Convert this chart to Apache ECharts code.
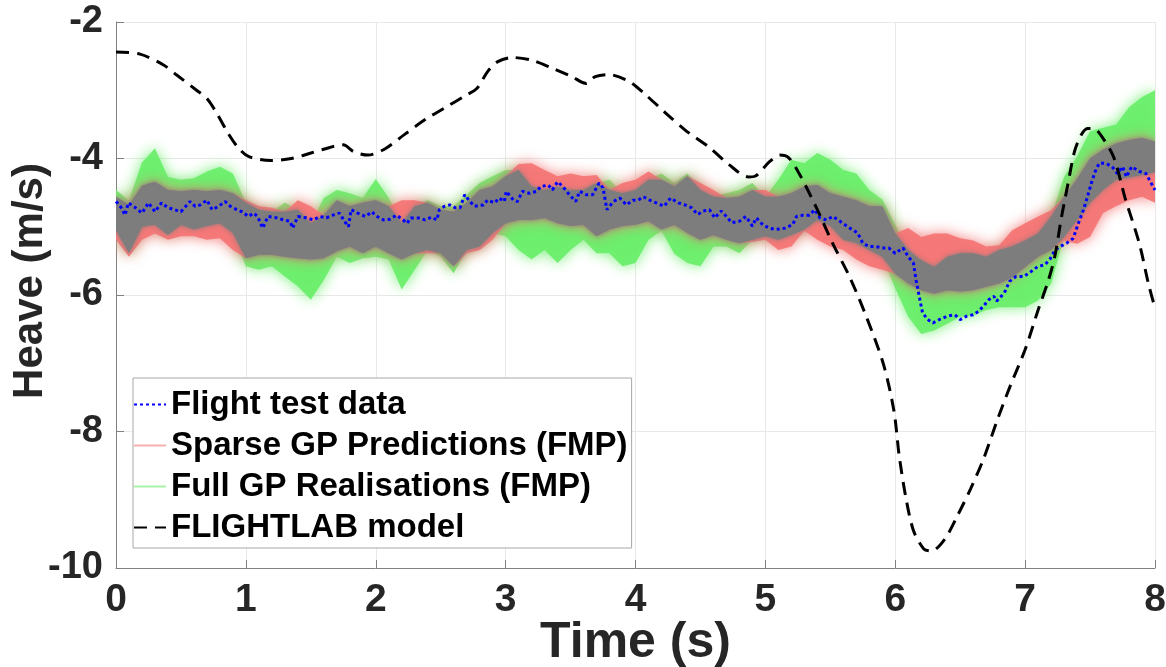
<!DOCTYPE html>
<html>
<head>
<meta charset="utf-8">
<script src="https://cdn.jsdelivr.net/npm/echarts@6/dist/echarts.min.js"></script>
<style>
html,body{margin:0;padding:0;background:#fff;}
#chart{width:1166px;height:667px;}
</style>
</head>
<body>
<div id="chart"></div>
<script>
// ---------- DATA ----------
const xTicks = [0,1,2,3,4,5,6,7,8];
const yTicks = [-10,-8,-6,-4,-2];

// Flight test data (time s, heave m/s)
const flightTime = [0.00,0.04,0.07,0.095,0.15,0.20,0.25,0.30,0.35,0.40,0.45,0.50,0.57,0.61,0.65,0.70,0.74,0.79,0.84,0.88,0.93,0.97,1.02,1.06,1.09,1.13,1.17,1.24,1.29,1.34,1.36,1.40,1.47,1.52,1.57,1.62,1.67,1.72,1.76,1.79,1.81,1.86,1.92,1.97,2.00,2.06,2.11,2.16,2.21,2.24,2.27,2.33,2.38,2.43,2.47,2.49,2.53,2.57,2.61,2.65,2.685,2.72,2.76,2.83,2.86,2.915,2.95,2.99,3.005,3.06,3.09,3.13,3.18,3.24,3.27,3.33,3.36,3.40,3.44,3.49,3.54,3.57,3.62,3.67,3.72,3.75,3.78,3.83,3.88,3.93,3.98,4.02,4.06,4.11,4.16,4.22,4.27,4.33,4.38,4.43,4.48,4.52,4.57,4.61,4.66,4.70,4.74,4.80,4.85,4.90,4.93,4.98,5.03,5.08,5.15,5.21,5.24,5.29,5.34,5.38,5.42,5.47,5.52,5.59,5.65,5.71,5.75,5.80,5.85,5.90,5.95,6.00,6.06,6.10,6.14,6.16,6.19,6.21,6.25,6.29,6.34,6.40,6.46,6.50,6.55,6.60,6.64,6.68,6.72,6.76,6.78,6.84,6.88,6.93,6.99,7.05,7.10,7.15,7.19,7.23,7.27,7.32,7.37,7.41,7.45,7.48,7.51,7.54,7.57,7.62,7.67,7.71,7.75,7.78,7.82,7.88,7.93,7.97,8.00];
const flightHeave = [-4.63,-4.72,-4.83,-4.65,-4.72,-4.80,-4.65,-4.78,-4.65,-4.72,-4.75,-4.78,-4.63,-4.70,-4.68,-4.61,-4.75,-4.70,-4.63,-4.70,-4.75,-4.78,-4.85,-4.80,-4.85,-5.02,-4.85,-4.87,-4.90,-4.92,-5.02,-4.85,-4.87,-4.90,-4.85,-4.87,-4.83,-4.80,-4.92,-5.00,-4.75,-4.80,-4.85,-4.78,-4.84,-4.90,-4.89,-4.83,-4.90,-4.95,-4.87,-4.87,-4.90,-4.86,-4.90,-4.75,-4.70,-4.68,-4.72,-4.72,-4.53,-4.62,-4.70,-4.68,-4.61,-4.65,-4.58,-4.63,-4.48,-4.61,-4.63,-4.48,-4.51,-4.48,-4.41,-4.39,-4.46,-4.34,-4.41,-4.53,-4.63,-4.48,-4.53,-4.53,-4.36,-4.43,-4.75,-4.63,-4.58,-4.68,-4.61,-4.61,-4.56,-4.61,-4.65,-4.70,-4.58,-4.65,-4.68,-4.72,-4.82,-4.77,-4.75,-4.87,-4.77,-4.85,-4.94,-4.92,-4.85,-4.99,-4.87,-4.97,-5.02,-5.04,-5.02,-4.97,-4.85,-4.83,-4.83,-4.75,-4.87,-4.90,-4.85,-4.94,-5.02,-5.09,-5.24,-5.29,-5.29,-5.31,-5.31,-5.39,-5.31,-5.44,-5.53,-5.78,-6.07,-6.26,-6.36,-6.41,-6.36,-6.31,-6.29,-6.36,-6.31,-6.29,-6.24,-6.16,-6.07,-6.02,-6.09,-5.97,-5.80,-5.73,-5.73,-5.65,-5.58,-5.56,-5.48,-5.34,-5.29,-5.24,-5.17,-4.95,-4.75,-4.56,-4.36,-4.19,-4.07,-4.07,-4.12,-4.22,-4.12,-4.27,-4.12,-4.19,-4.22,-4.36,-4.46];

// FLIGHTLAB model
const modelTime = [0,0.185,0.366,0.47,0.62,0.70,0.78,0.86,0.94,1.02,1.19,1.35,1.5,1.68,1.75,1.83,1.94,2.07,2.22,2.38,2.53,2.68,2.78,2.86,2.94,3.05,3.2,3.35,3.51,3.62,3.69,3.79,3.95,4.08,4.23,4.38,4.57,4.72,4.87,4.92,5.03,5.11,5.18,5.26,5.39,5.52,5.65,5.78,5.91,5.99,6.03,6.08,6.14,6.22,6.28,6.38,6.48,6.58,6.68,6.79,6.89,7.0,7.1,7.18,7.23,7.28,7.33,7.38,7.43,7.48,7.53,7.58,7.68,7.77,7.88,7.95,8.0];
const modelHeave = [-2.44,-2.47,-2.63,-2.78,-3.0,-3.12,-3.35,-3.62,-3.84,-3.97,-4.03,-4.0,-3.92,-3.82,-3.80,-3.90,-3.95,-3.86,-3.65,-3.43,-3.26,-3.09,-2.97,-2.73,-2.58,-2.52,-2.56,-2.67,-2.80,-2.90,-2.80,-2.77,-2.87,-3.07,-3.33,-3.58,-3.84,-4.09,-4.27,-4.26,-4.05,-3.95,-3.99,-4.22,-4.71,-5.25,-5.74,-6.33,-7.02,-7.70,-8.35,-8.95,-9.45,-9.72,-9.75,-9.58,-9.23,-8.84,-8.40,-7.81,-7.31,-6.80,-6.22,-5.78,-5.42,-4.86,-4.37,-3.90,-3.66,-3.56,-3.56,-3.65,-3.97,-4.58,-5.25,-5.84,-6.19];

// GP bands sampled every 0.1 s
const bandTime = [0,0.1,0.2,0.3,0.4,0.5,0.6,0.7,0.8,0.9,1,1.1,1.2,1.3,1.4,1.5,1.6,1.7,1.8,1.9,2,2.1,2.2,2.3,2.4,2.5,2.6,2.7,2.8,2.9,3,3.1,3.2,3.3,3.4,3.5,3.6,3.7,3.8,3.9,4,4.1,4.2,4.3,4.4,4.5,4.6,4.7,4.8,4.9,5,5.1,5.2,5.3,5.4,5.5,5.6,5.7,5.8,5.9,6,6.1,6.2,6.3,6.4,6.5,6.6,6.7,6.8,6.9,7,7.1,7.2,7.3,7.4,7.5,7.6,7.7,7.8,7.9,8];
const greenUpper = [-4.46,-4.61,-4.06,-3.85,-4.27,-4.31,-4.29,-4.19,-4.12,-4.22,-4.65,-4.75,-4.78,-4.65,-4.75,-4.95,-4.58,-4.46,-4.51,-4.58,-4.30,-4.58,-4.95,-4.70,-4.61,-4.70,-4.70,-4.53,-4.36,-4.26,-4.17,-4.17,-4.41,-4.46,-4.41,-4.46,-4.46,-4.36,-4.31,-4.51,-4.46,-4.31,-4.22,-4.36,-4.22,-4.46,-4.56,-4.51,-4.46,-4.36,-4.56,-4.31,-4.02,-4.07,-3.92,-4.02,-4.17,-4.22,-4.46,-4.60,-4.97,-5.34,-5.49,-5.59,-5.44,-5.39,-5.39,-5.44,-5.34,-5.29,-5.20,-5.10,-4.85,-4.27,-3.97,-3.60,-3.55,-3.50,-3.25,-3.10,-3.00];
const greenLower = [-5.05,-5.39,-5.00,-4.97,-5.12,-4.97,-5.04,-4.99,-4.95,-5.09,-5.58,-5.63,-5.58,-5.73,-5.87,-6.07,-5.78,-5.44,-5.53,-5.46,-5.44,-5.48,-5.92,-5.63,-5.34,-5.44,-5.68,-5.34,-5.29,-5.09,-5.14,-5.34,-5.48,-5.34,-5.53,-5.34,-5.19,-5.39,-5.39,-5.58,-5.53,-5.19,-5.06,-5.40,-5.53,-5.58,-5.29,-5.29,-5.39,-5.19,-5.14,-5.19,-5.12,-5.04,-4.90,-4.99,-5.19,-5.24,-5.34,-5.44,-5.90,-6.32,-6.57,-6.52,-6.42,-6.32,-6.30,-6.22,-6.18,-6.18,-6.18,-6.08,-5.83,-5.15,-4.90,-4.65,-4.46,-4.31,-4.28,-4.24,-4.20];
const redUpper = [-4.56,-4.68,-4.40,-4.34,-4.46,-4.48,-4.46,-4.48,-4.46,-4.51,-4.61,-4.70,-4.72,-4.78,-4.61,-4.70,-4.83,-4.61,-4.70,-4.65,-4.61,-4.70,-4.61,-4.61,-4.65,-4.75,-4.78,-4.65,-4.46,-4.41,-4.26,-4.08,-4.07,-4.17,-4.26,-4.22,-4.26,-4.24,-4.46,-4.36,-4.31,-4.19,-4.31,-4.41,-4.26,-4.36,-4.46,-4.58,-4.56,-4.46,-4.46,-4.56,-4.51,-4.41,-4.39,-4.51,-4.56,-4.61,-4.70,-4.70,-5.10,-5.02,-5.15,-5.10,-5.10,-5.17,-5.20,-5.29,-5.27,-5.05,-4.95,-4.85,-4.76,-4.56,-4.30,-4.00,-3.87,-3.78,-3.73,-3.70,-3.75];
const redLower = [-5.19,-5.44,-5.19,-5.10,-5.19,-5.14,-5.14,-5.19,-5.17,-5.34,-5.46,-5.41,-5.41,-5.44,-5.46,-5.48,-5.46,-5.36,-5.29,-5.39,-5.29,-5.39,-5.48,-5.39,-5.39,-5.39,-5.58,-5.39,-5.34,-5.19,-4.95,-4.90,-4.90,-4.87,-4.95,-4.99,-4.97,-5.14,-5.04,-4.99,-4.97,-4.92,-5.04,-4.97,-5.09,-5.19,-5.12,-5.19,-5.24,-5.22,-5.19,-5.34,-5.29,-5.06,-5.19,-5.29,-5.34,-5.48,-5.58,-5.63,-5.69,-5.83,-5.93,-5.98,-5.93,-5.95,-5.93,-5.88,-5.83,-5.74,-5.59,-5.44,-5.34,-5.20,-5.25,-5.15,-4.80,-4.70,-4.61,-4.56,-4.65];

// ---------- BUILD ----------
const grayUpper = bandTime.map((_, i) => Math.min(greenUpper[i], redUpper[i]));
const grayLower = bandTime.map((_, i) => Math.max(greenLower[i], redLower[i]));

const FONT = "'Liberation Sans', Arial, sans-serif";
const flightData = flightTime.map((t, i) => [t, flightHeave[i]]);
const modelData = modelTime.map((t, i) => [t, modelHeave[i]]);

function bandRenderer(upper, lower, color, blur) {
  return function (params, api) {
    const pts = [];
    for (let i = 0; i < bandTime.length; i++) pts.push(api.coord([bandTime[i], upper[i]]));
    for (let i = bandTime.length - 1; i >= 0; i--) pts.push(api.coord([bandTime[i], Math.min(lower[i], upper[i])]));
    return {
      type: 'polygon',
      shape: { points: pts },
      style: { fill: color, stroke: null, shadowBlur: blur, shadowColor: color }
    };
  };
}

const chart = echarts.init(document.getElementById('chart'), null, { renderer: 'canvas' });
chart.setOption({
  animation: false,
  backgroundColor: '#ffffff',
  grid: { left: 116, right: 11, top: 22, bottom: 99, containLabel: false, outerBoundsMode: 'none' },
  xAxis: {
    type: 'value', min: 0, max: 8, interval: 1,
    name: 'Time (s)', nameLocation: 'middle', nameGap: 50, nameMoveOverlap: false,
    nameTextStyle: { fontFamily: FONT, fontWeight: 'bold', fontSize: 50, color: '#262626' },
    axisLine: { show: true, onZero: false, lineStyle: { color: '#808080', width: 1 } },
    axisTick: { show: true, inside: true, length: 8, lineStyle: { color: '#808080' } },
    axisLabel: { fontFamily: FONT, fontWeight: 'bold', fontSize: 39, color: '#262626', margin: 13 },
    splitLine: { show: true, lineStyle: { color: '#e8e8e8', width: 1 } }
  },
  yAxis: {
    type: 'value', min: -10, max: -2, interval: 2,
    name: 'Heave (m/s)', nameLocation: 'middle', nameGap: 65, nameRotate: 90, nameMoveOverlap: false,
    nameTextStyle: { fontFamily: FONT, fontWeight: 'bold', fontSize: 42, color: '#262626', padding: [0, 0, 0, 28] },
    axisLine: { show: true, onZero: false, lineStyle: { color: '#808080', width: 1 } },
    axisTick: { show: true, inside: true, length: 8, lineStyle: { color: '#808080' } },
    axisLabel: { fontFamily: FONT, fontWeight: 'bold', fontSize: 38, color: '#262626', margin: 13 },
    splitLine: { show: true, lineStyle: { color: '#e8e8e8', width: 1 } }
  },
  legend: {
    orient: 'vertical', left: 133, top: 378,
    data: ['Flight test data', 'Sparse GP Predictions (FMP)', 'Full GP Realisations (FMP)', 'FLIGHTLAB model'],
    backgroundColor: '#ffffff', borderColor: '#a8a8a8', borderWidth: 1,
    padding: [10, 4, 4, 0], itemGap: 8, itemWidth: 32, itemHeight: 14,
    itemStyle: { opacity: 0, borderWidth: 0 },
    textStyle: { fontFamily: FONT, fontWeight: 'bold', fontSize: 33, color: '#000' },
    selectedMode: false, z: 10
  },
  series: [
    { type: 'custom', name: 'greenBand', data: [[0, -5]], clip: true, silent: true, z: 1,
      renderItem: bandRenderer(greenUpper, greenLower, 'rgba(108,238,108,0.95)', 14) },
    { type: 'custom', name: 'redBand', data: [[0, -5]], clip: true, silent: true, z: 2,
      renderItem: bandRenderer(redUpper, redLower, 'rgba(244,118,118,0.95)', 14) },
    { type: 'custom', name: 'grayBand', data: [[0, -5]], clip: true, silent: true, z: 3,
      renderItem: bandRenderer(grayUpper, grayLower, 'rgba(125,125,125,1)', 5) },
    { type: 'line', name: 'Sparse GP Predictions (FMP)', data: [], symbol: 'none',
      lineStyle: { color: '#f7b0b0', width: 2 }, itemStyle: { color: '#f7b0b0' } },
    { type: 'line', name: 'Full GP Realisations (FMP)', data: [], symbol: 'none',
      lineStyle: { color: '#a8f2a8', width: 2 }, itemStyle: { color: '#a8f2a8' } },
    { type: 'line', name: 'Flight test data', data: flightData, symbol: 'none', z: 5,
      lineStyle: { color: '#0000ff', width: 3, type: [3, 3] }, itemStyle: { color: '#0000ff' } },
    { type: 'line', name: 'FLIGHTLAB model', data: modelData, symbol: 'none', smooth: 0.3, z: 6,
      lineStyle: { color: '#000000', width: 3, type: [13, 8] }, itemStyle: { color: '#000000' } }
  ]
});
</script>
</body>
</html>
